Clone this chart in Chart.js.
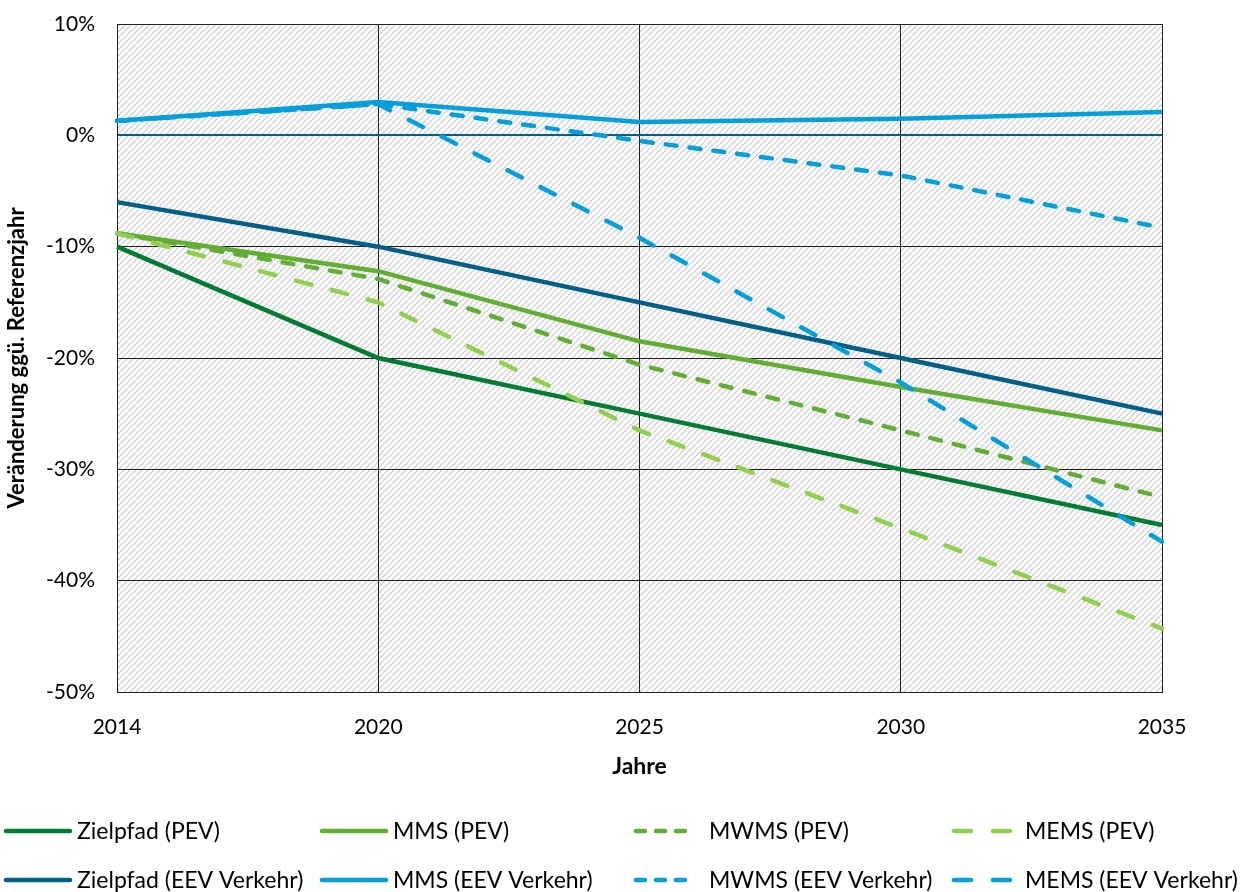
<!DOCTYPE html>
<html>
<head>
<meta charset="utf-8">
<script src="https://cdn.jsdelivr.net/npm/chart.js@4.4.1/dist/chart.umd.min.js"></script>
<style>
  html, body { margin: 0; padding: 0; background: #fff; }
  #wrap { width: 1244px; height: 892px; position: relative; }
</style>
</head>
<body>
<div id="wrap"><canvas id="chart"></canvas></div>
<script>
// Jahre (category axis)
const years = ['2014', '2020', '2025', '2030', '2035'];

// Veränderung ggü. Referenzjahr in %
const zielPEV  = [-10, -20, -25, -30, -35];
const mmsPEV   = [-8.8, -12.2, -18.5, -22.6, -26.5];
const mwmsPEV  = [-8.8, -12.9, -20.6, -26.5, -32.5];
const memsPEV  = [-8.8, -15.0, -26.5, -35.3, -44.3];
const zielEEV  = [-6, -10, -15, -20, -25];
const mmsEEV   = [1.3, 3.0, 1.2, 1.5, 2.1];
const mwmsEEV  = [1.3, 2.8, -0.5, -3.6, -8.3];
const memsEEV  = [1.3, 2.8, -9.2, -22.2, -36.5];

const labels = ['Zielpfad (PEV)', 'MMS (PEV)', 'MWMS (PEV)', 'MEMS (PEV)',
                'Zielpfad (EEV Verkehr)', 'MMS (EEV Verkehr)', 'MWMS (EEV Verkehr)', 'MEMS (EEV Verkehr)'];
const yTicks = [-50, -40, -30, -20, -10, 0, 10];

const FONT = 'Lato, "Open Sans", sans-serif';
const DARKGREEN = '#007b34';
const MIDGREEN = '#62ae35';
const LIGHTGREEN = '#92cf4f';
const DARKBLUE = '#005f87';
const LIGHTBLUE = '#009fda';
const SHORT = [11, 13];
const LONG = [16, 21];

// hatched background pattern
function makeHatch() {
  const c = document.createElement('canvas');
  c.width = 6; c.height = 6;
  const g = c.getContext('2d');
  g.fillStyle = '#fff';
  g.fillRect(0, 0, 6, 6);
  g.strokeStyle = '#c9c9c9';
  g.lineWidth = 1.2;
  g.beginPath();
  g.moveTo(-1, 7); g.lineTo(7, -1);
  g.moveTo(-4, 4); g.lineTo(4, -4);
  g.moveTo(2, 10); g.lineTo(10, 2);
  g.stroke();
  return c;
}

const hatchBg = {
  id: 'hatchBg',
  beforeDraw(chart) {
    const { ctx, chartArea: a } = chart;
    ctx.save();
    ctx.fillStyle = ctx.createPattern(makeHatch(), 'repeat');
    ctx.fillRect(a.left, a.top, a.right - a.left, a.bottom - a.top);
    ctx.restore();
  }
};

// 4-column legend below the chart
const bottomLegend = {
  id: 'bottomLegend',
  afterDraw(chart) {
    const ctx = chart.ctx;
    const cols = [4, 320, 634, 952];
    const rows = [831, 880];
    ctx.save();
    chart.data.datasets.forEach((ds, i) => {
      const col = i % 4;
      const x = cols[col];
      const y = rows[Math.floor(i / 4)];
      ctx.strokeStyle = ds.borderColor;
      ctx.lineWidth = 4.5;
      ctx.lineCap = 'round';
      ctx.beginPath();
      let tx;
      if (col === 2) {
        ctx.setLineDash([9, 11]);
        ctx.moveTo(x + 2, y); ctx.lineTo(x + 58, y);
        tx = x + 75;
      } else if (col === 3) {
        ctx.setLineDash([17, 22]);
        ctx.moveTo(x + 2, y); ctx.lineTo(x + 58, y);
        tx = x + 73;
      } else {
        ctx.setLineDash([]);
        ctx.moveTo(x + 2, y); ctx.lineTo(x + 66, y);
        tx = x + 73;
      }
      ctx.stroke();
      ctx.setLineDash([]);
      ctx.fillStyle = '#000';
      ctx.font = '23px ' + FONT;
      ctx.textBaseline = 'middle';
      ctx.fillText(ds.label, tx, y + 1);
    });
    ctx.restore();
  }
};

const series = [zielPEV, mmsPEV, mwmsPEV, memsPEV, zielEEV, mmsEEV, mwmsEEV, memsEEV];
const colors = [DARKGREEN, MIDGREEN, MIDGREEN, LIGHTGREEN, DARKBLUE, LIGHTBLUE, LIGHTBLUE, LIGHTBLUE];
const dashes = [null, null, SHORT, LONG, null, null, SHORT, LONG];

const datasets = series.map((d, i) => ({
  label: labels[i],
  data: d,
  borderColor: colors[i],
  backgroundColor: colors[i],
  borderWidth: 4.5,
  borderDash: dashes[i] || undefined,
  borderCapStyle: dashes[i] ? 'round' : 'butt',
  pointRadius: 0,
  tension: 0,
  fill: false,
  order: series.length - 1 - i
}));

new Chart(document.getElementById('chart'), {
  type: 'line',
  data: { labels: years, datasets },
  plugins: [hatchBg, bottomLegend],
  options: {
    responsive: true,
    maintainAspectRatio: false,
    animation: false,
    layout: { padding: { left: 0, right: 82, top: 24, bottom: 108 } },
    plugins: {
      legend: { display: false },
      tooltip: { enabled: false }
    },
    scales: {
      x: {
        offset: false,
        grid: { color: '#222', lineWidth: 1, drawTicks: false },
        border: { color: '#222', width: 1 },
        ticks: { color: '#000', font: { size: 21, family: FONT }, padding: 23 },
        title: { display: true, text: 'Jahre', color: '#000', font: { size: 23, weight: 'bold', family: FONT }, padding: { top: 4, bottom: 4 } },
        afterFit(scale) { scale.height = 92; }
      },
      y: {
        min: -50, max: 10,
        afterBuildTicks(scale) { scale.ticks = yTicks.map(v => ({ value: v })); },
        grid: {
          color: ctx => ctx.tick && ctx.tick.value === 0 ? DARKBLUE : '#222',
          lineWidth: ctx => ctx.tick && ctx.tick.value === 0 ? 2 : 1,
          drawTicks: false
        },
        border: { color: '#222', width: 1 },
        ticks: {
          color: '#000', font: { size: 21, family: FONT }, padding: 22,
          callback: v => v + '%'
        },
        title: { display: true, text: 'Veränderung ggü. Referenzjahr', color: '#000', font: { size: 22, weight: 'bold', family: FONT }, padding: { top: 4, bottom: 0 } },
        afterFit(scale) {
          scale.width = 117;
          scale.paddingTop = 0;
          scale.paddingBottom = 0;
        }
      }
    }
  }
});
</script>
</body>
</html>
